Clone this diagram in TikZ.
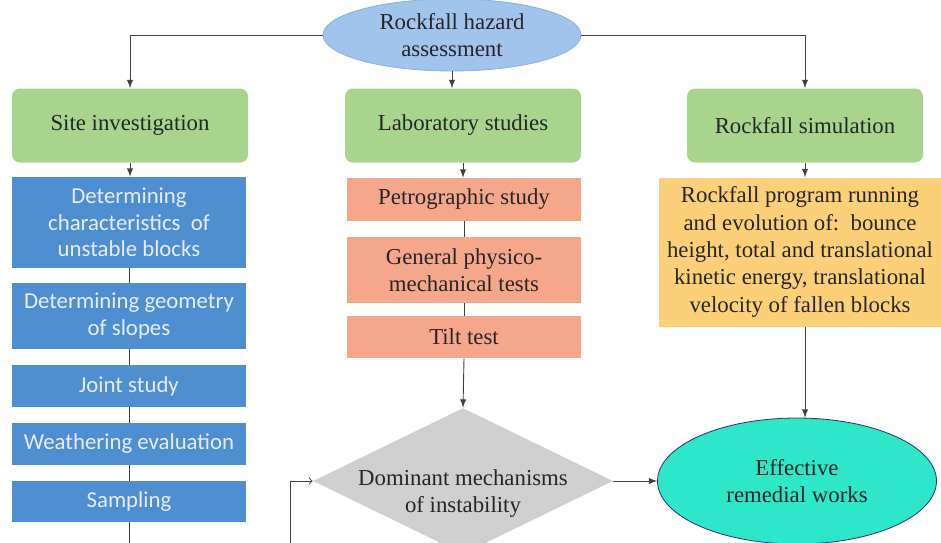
\documentclass[tikz,border=0pt]{standalone}
\usepackage{fontspec}
\setmainfont{Liberation Serif}
\newfontfamily\calibrifont{Carlito}
\usepackage{tikz}
\usetikzlibrary{arrows}
\usetikzlibrary{shapes.geometric}

\definecolor{hazardblue}{HTML}{A0C4EC}
\definecolor{hazardedge}{HTML}{8AB0DA}
\definecolor{stagegreen}{HTML}{A8D48E}
\definecolor{siteblue}{HTML}{4D8FD1}
\definecolor{labsalmon}{HTML}{F5A78C}
\definecolor{simyellow}{HTML}{FCD078}
\definecolor{mechgray}{HTML}{CFCFCF}
\definecolor{remedycyan}{HTML}{2EE6C8}
\definecolor{linegray}{HTML}{404040}

\tikzset{
  txt/.style={font=\fontsize{11.4}{13.5}\selectfont, align=center, inner sep=0pt, text=black!85},
  stagebox/.style={txt, rectangle, rounded corners=4pt, fill=stagegreen, minimum width=118pt, minimum height=37pt},
  sitebox/.style={txt, rectangle, fill=siteblue, text=white!92!blue, font=\calibrifont\fontsize{11.4}{13.25}\selectfont, minimum width=117pt},
  labbox/.style={txt, rectangle, fill=labsalmon, minimum width=117pt},
  conn/.style={draw=linegray, line width=0.45pt},
}

\begin{document}
\begin{tikzpicture}[x=0.5pt,y=-0.5pt]
    \useasboundingbox (0,0) rectangle (941,542);
    % start
    \node[txt, ellipse, fill=hazardblue, draw=hazardedge, minimum width=129pt, minimum height=36pt] (hazard) at (452,35) {Rockfall hazard\\assessment};
    % three branches
    \node[stagebox] (site) at (130,125.5) {Site investigation};
    \node[stagebox] (lab) at (463,125.5) {Laboratory studies};
    \node[stagebox] (sim) at (805,125.5) {Rockfall simulation};
    % site investigation
    \node[sitebox, minimum height=45.5pt] (charac) at (129,222.5) {Determining\\characteristics\ \ of\\unstable blocks};
    \node[sitebox, minimum height=33pt] (geom) at (129,316) {Determining geometry\\of slopes};
    \node[sitebox, minimum height=21pt] (joint) at (129,386) {Joint study};
    \node[sitebox, minimum height=21pt] (weather) at (129,444) {Weathering evaluation};
    \node[sitebox, minimum height=20.5pt] (sampling) at (129,501.5) {Sampling};
    % laboratory
    \node[labbox, minimum height=21.5pt] (petro) at (464,199.5) {Petrographic study};
    \node[labbox, minimum height=33pt] (physmech) at (464,270) {General physico-\\mechanical tests};
    \node[labbox, minimum height=21pt] (tilt) at (464,337) {Tilt test};
    % simulation
    \node[txt, rectangle, fill=simyellow, font=\fontsize{11.4}{13.65}\selectfont, minimum width=141pt, minimum height=74.5pt] (program) at (800,252) {Rockfall program running\\and evolution of:\ \ bounce\\height, total and translational\\kinetic energy, translational\\velocity of fallen blocks};
    % results
    \node[txt, diamond, fill=mechgray, aspect=2.05, inner sep=-8pt, minimum width=150pt, minimum height=73pt] (mech) at (463,481) {\rule{0pt}{20.5pt}Dominant mechanisms\\of instability};
    \node[txt, ellipse, fill=remedycyan, draw=linegray!70!blue, line width=0.4pt, minimum width=139.5pt, minimum height=63pt] (remedy) at (797,481) {Effective\\remedial works};
    \coordinate (loop) at (290,580);

    \draw[conn,-latex] (hazard.west) -| (site.north);
    \draw[conn,-latex] (hazard.east) -| (sim.north);
    \draw[conn,-latex] (hazard.south) -- (hazard.south |- lab.north);
    \draw[conn,-latex] (site.south) -- (site.south |- charac.north);
    \draw[conn] (charac) -- (geom) -- (joint) -- (weather) -- (sampling);
    \draw[conn,->] (sampling.south) |- (loop) |- (mech.west);
    \draw[conn,-latex] (lab.south) -- (lab.south |- petro.north);
    \draw[conn] (petro) -- (physmech) -- (tilt);
    \draw[conn,-latex] (tilt.south) -- (mech.north);
    \draw[conn,-latex] (sim.south) -- (sim.south |- program.north);
    \draw[conn,-latex] (sim.south |- program.south) -- (sim.south |- remedy.north);
    \draw[conn,-latex] (mech.east) -- (remedy.west);
\end{tikzpicture}
\end{document}
